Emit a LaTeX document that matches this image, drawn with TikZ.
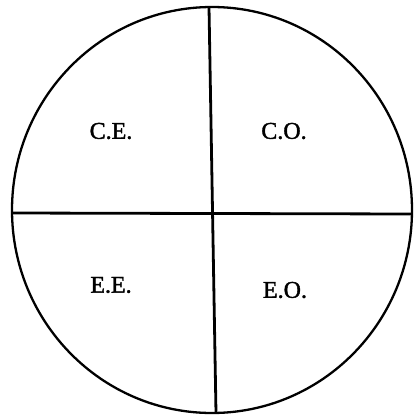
\documentclass[tikz,border=0pt]{standalone}
\usepackage{fontspec}
\setmainfont{Liberation Serif}
\begin{document}
\begin{tikzpicture}[x=1pt,y=-1pt,
  rim/.style={line width=2.3pt},
  divider/.style={line width=2.8pt},
  lbl/.style={font=\fontsize{24}{24}\selectfont\addfontfeature{FakeBold=1.6}, inner sep=0pt}]
\useasboundingbox (0,0) rectangle (416,416);
\draw[rim] (212,210) ellipse [x radius=200, y radius=203];
\coordinate (vtop) at (209,7);
\coordinate (vbot) at (216,413);
\coordinate (hl) at (12,213);
\coordinate (hr) at (412,214);
\draw[divider] (vtop) -- (vbot);
\draw[divider] (hl) -- (hr);
\node[lbl] (ce) at (111,131) {C.E.};
\node[lbl] (co) at (284,131) {C.O.};
\node[lbl] (ee) at (111,285) {E.E.};
\node[lbl] (eo) at (285,290) {E.O.};
\end{tikzpicture}
\end{document}
